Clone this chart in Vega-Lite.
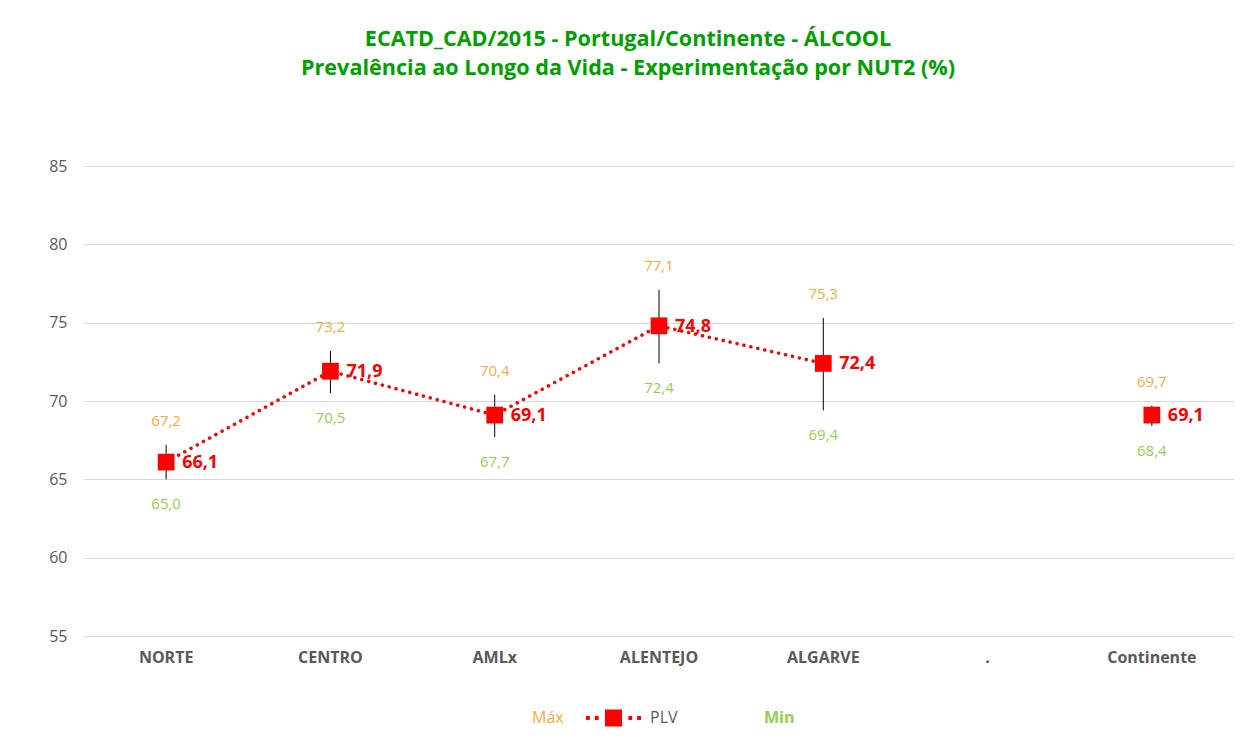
{
  "$schema": "https://vega.github.io/schema/vega-lite/v6.json",
  "width": 1150,
  "height": 470,
  "autosize": {"type": "none"},
  "padding": {"left": 84, "top": 166, "right": 10, "bottom": 104},
  "background": "#FFFFFF",
  "config": {
    "view": {"stroke": null},
    "font": "Open Sans",
    "locale": {"number": {"decimal": ",", "thousands": ".", "grouping": [3], "currency": ["", " €"]}}
  },
  "title": {
    "text": ["ECATD_CAD/2015 - Portugal/Continente - ÁLCOOL", "Prevalência ao Longo da Vida - Experimentação por NUT2 (%)"],
    "color": "#00A000",
    "fontSize": 21.6,
    "fontWeight": "bold",
    "font": "Open Sans",
    "lineHeight": 29,
    "anchor": "middle",
    "offset": 78,
    "dx": -31
  },
  "data": {
    "values": [
      {"regiao": "NORTE", "plv": 66.1, "max": 67.2, "min": 65.0},
      {"regiao": "CENTRO", "plv": 71.9, "max": 73.2, "min": 70.5},
      {"regiao": "AMLx", "plv": 69.1, "max": 70.4, "min": 67.7},
      {"regiao": "ALENTEJO", "plv": 74.8, "max": 77.1, "min": 72.4},
      {"regiao": "ALGARVE", "plv": 72.4, "max": 75.3, "min": 69.4},
      {"regiao": "Continente", "plv": 69.1, "max": 69.7, "min": 68.4}
    ]
  },
  "encoding": {
    "x": {
      "field": "regiao",
      "type": "nominal",
      "sort": null,
      "bandPosition": 0.5,
      "scale": {"type": "band", "domain": ["NORTE", "CENTRO", "AMLx", "ALENTEJO", "ALGARVE", ".", "Continente"], "paddingInner": 0, "paddingOuter": 0},
      "axis": {
        "title": null,
        "labelAngle": 0,
        "labelFontWeight": "bold",
        "labelColor": "#595959",
        "labelFontSize": 16,
        "labelPadding": 13,
        "domain": false,
        "ticks": false,
        "grid": false
      }
    }
  },
  "layer": [
    {
      "mark": {"type": "rule", "color": "#000000", "strokeWidth": 1},
      "encoding": {
        "y": {
          "field": "min",
          "type": "quantitative",
          "scale": {"domain": [55, 85], "zero": false, "nice": false},
          "axis": {
            "title": null,
            "values": [55, 60, 65, 70, 75, 80, 85],
            "domain": false,
            "ticks": false,
            "labelColor": "#595959",
            "labelFontSize": 16,
            "labelPadding": 17,
            "gridColor": "#D9D9D9",
            "gridWidth": 1
          }
        },
        "y2": {"field": "max"}
      }
    },
    {
      "transform": [{"filter": "datum.regiao !== 'Continente'"}],
      "mark": {"type": "line", "color": "#FF0000", "strokeWidth": 3.5, "strokeDash": [0.1, 7], "strokeCap": "round"},
      "encoding": {"y": {"field": "plv", "type": "quantitative"}}
    },
    {
      "mark": {"type": "point", "shape": "square", "filled": true, "size": 280, "opacity": 1},
      "encoding": {
        "y": {"field": "plv", "type": "quantitative"},
        "color": {
          "datum": "PLV",
          "type": "nominal",
          "scale": {"domain": ["Máx", "PLV", "Min"], "range": ["rgba(255,255,255,0)", "#FF0000", "rgba(255,255,255,0)"]},
          "legend": {
            "title": null,
            "orient": "none",
            "legendX": 384,
            "legendY": 524,
            "direction": "horizontal",
            "symbolSize": 3025,
            "symbolType": "M-0.31,-0.31H0.31V0.31H-0.31Z M-1,-0.07h0.14v0.14h-0.14Z M-0.68,-0.07h0.14v0.14h-0.14Z M0.54,-0.07h0.14v0.14h-0.14Z M0.86,-0.07h0.14v0.14h-0.14Z",
            "symbolStrokeWidth": 0,
            "labelFontSize": 16,
            "labelOffset": 9,
            "columnPadding": 22,
            "labelColor": {"expr": "datum.value === 'Máx' ? '#FFA93A' : datum.value === 'Min' ? '#92D050' : '#595959'"},
            "labelFontWeight": {"expr": "datum.value === 'Min' ? 'bold' : 'normal'"}
          }
        }
      }
    },
    {
      "mark": {"type": "text", "align": "left", "baseline": "middle", "dx": 16, "dy": 1, "fontWeight": "bold", "fontSize": 18, "color": "#FF0000"},
      "encoding": {
        "y": {"field": "plv", "type": "quantitative"},
        "text": {"field": "plv", "type": "quantitative", "format": ".1f"}
      }
    },
    {
      "mark": {"type": "text", "align": "center", "baseline": "middle", "dy": -24, "fontSize": 15, "color": "#FFA93A"},
      "encoding": {
        "y": {"field": "max", "type": "quantitative"},
        "text": {"field": "max", "type": "quantitative", "format": ".1f"}
      }
    },
    {
      "mark": {"type": "text", "align": "center", "baseline": "middle", "dy": 25, "fontSize": 15, "color": "#92D050"},
      "encoding": {
        "y": {"field": "min", "type": "quantitative"},
        "text": {"field": "min", "type": "quantitative", "format": ".1f"}
      }
    }
  ]
}
